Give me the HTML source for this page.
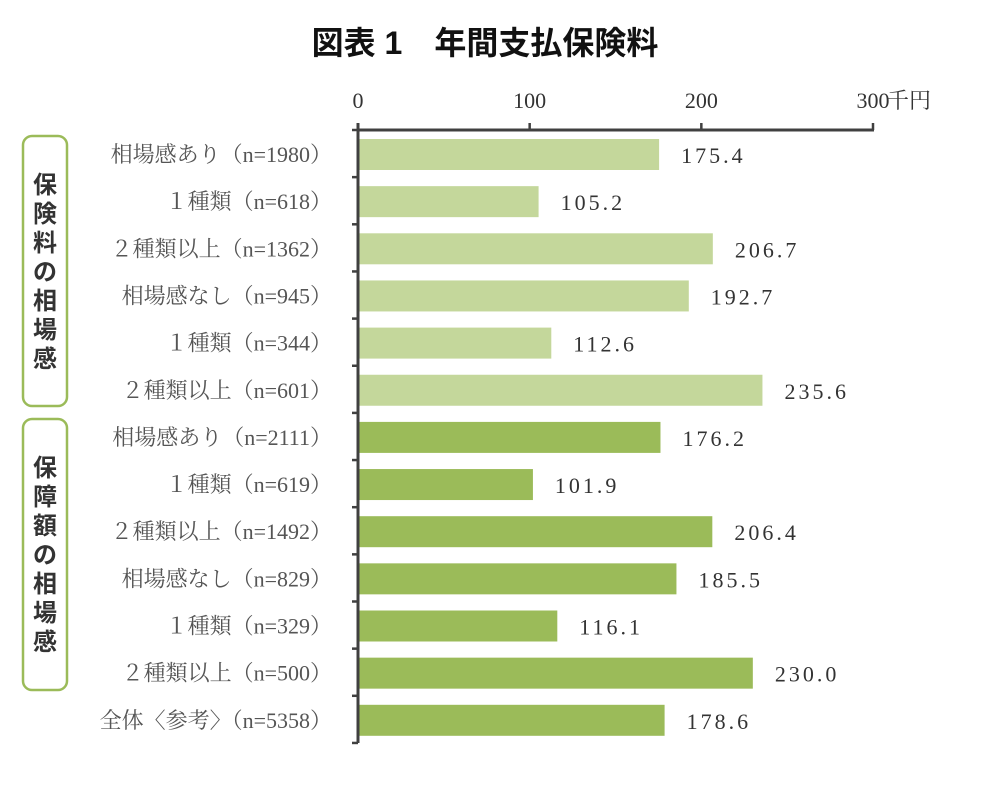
<!DOCTYPE html>
<html><head><meta charset="utf-8"><style>
body{margin:0;background:#fff;}
svg text{font-family:"Liberation Serif","Noto Serif CJK SC",serif;}
</style></head><body>
<svg id="chart" width="1006" height="792" xmlns="http://www.w3.org/2000/svg">
<text x="485" y="54" text-anchor="middle" font-size="32" font-weight="bold" style="font-family:'Liberation Sans','Noto Sans CJK JP',sans-serif" fill="#111">図表 1　年間支払保険料</text>
<rect x="23" y="136" width="44" height="270" rx="9" fill="none" stroke="#9bbb59" stroke-width="2.5"/>
<rect x="23" y="419" width="44" height="271" rx="9" fill="none" stroke="#9bbb59" stroke-width="2.5"/>
<text x="45" y="193" text-anchor="middle" font-size="24" font-weight="bold" style="font-family:'Liberation Sans','Noto Sans CJK JP',sans-serif" fill="#333"><tspan x="45" dy="0">保</tspan><tspan x="45" dy="29">険</tspan><tspan x="45" dy="29">料</tspan><tspan x="45" dy="29">の</tspan><tspan x="45" dy="29">相</tspan><tspan x="45" dy="29">場</tspan><tspan x="45" dy="29">感</tspan></text>
<text x="45" y="476" text-anchor="middle" font-size="24" font-weight="bold" style="font-family:'Liberation Sans','Noto Sans CJK JP',sans-serif" fill="#333"><tspan x="45" dy="0">保</tspan><tspan x="45" dy="29">障</tspan><tspan x="45" dy="29">額</tspan><tspan x="45" dy="29">の</tspan><tspan x="45" dy="29">相</tspan><tspan x="45" dy="29">場</tspan><tspan x="45" dy="29">感</tspan></text>
<g id="g"></g>
</svg>
<script>
const categories=["相場感あり（n=1980）","１種類（n=618）","２種類以上（n=1362）","相場感なし（n=945）","１種類（n=344）","２種類以上（n=601）","相場感あり（n=2111）","１種類（n=619）","２種類以上（n=1492）","相場感なし（n=829）","１種類（n=329）","２種類以上（n=500）","全体〈参考〉（n=5358）"];
const values=[175.4,105.2,206.7,192.7,112.6,235.6,176.2,101.9,206.4,185.5,116.1,230.0,178.6];
const groups=[0,0,0,0,0,0,1,1,1,1,1,1,1];
const ticks=[0,100,200,300];
(function(){
const NS="http://www.w3.org/2000/svg";
const g=document.getElementById('g');
const x0=358,x1=873,maxV=300,axisTop=130,slot=47.15;
const xs=v=>x0+(v/maxV)*(x1-x0);
const ys=i=>axisTop+i*slot;
function mk(t,a){const e=document.createElementNS(NS,t);for(const k in a)e.setAttribute(k,a[k]);g.appendChild(e);return e;}
categories.forEach((c,i)=>{
 const r=mk('rect',{x:xs(0)+1,y:ys(i)+9,width:xs(values[i])-xs(0)-1,height:31,fill:groups[i]?'#9bbb59':'#c4d79b'});
 
 
 const l=mk('text',{x:332,y:ys(i)+32,'text-anchor':'end','font-size':22,fill:'#555'});
 l.textContent=c;
 
 
 const v=mk('text',{x:xs(values[i])+22,y:ys(i)+33,'font-size':22,fill:'#333','letter-spacing':3});
 v.textContent=values[i].toFixed(1);
 
 
});
for(let i=0;i<=categories.length;i++){
 const t=mk('line',{x1:x0-6,x2:x0,y1:ys(i),y2:ys(i),stroke:'#404040','stroke-width':2.5});
 
 
}
ticks.forEach(t=>{
 const l=mk('line',{x1:xs(t),x2:xs(t),y1:axisTop-7,y2:axisTop,stroke:'#404040','stroke-width':2.5});
 
 
 const tx=mk('text',{x:xs(t),y:108,'text-anchor':'middle','font-size':22,fill:'#333'});
 tx.textContent=t;
 
 
});
const u=mk('text',{x:xs(300)+14,y:108,'font-size':22,fill:'#333'});
u.textContent='千円';


const ax=mk('line',{x1:x0,x2:x1+1,y1:axisTop,y2:axisTop,stroke:'#404040','stroke-width':3});


const ay=mk('line',{x1:x0,x2:x0,y1:axisTop-7,y2:ys(categories.length),stroke:'#404040','stroke-width':3});


})();
</script>
</body></html>
